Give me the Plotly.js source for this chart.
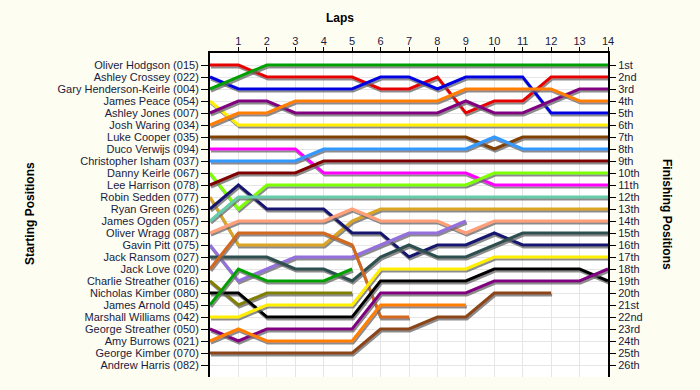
<!DOCTYPE html>
<html>
<head>
<meta charset="utf-8">
<script src="https://cdn.plot.ly/plotly-3.0.1.min.js"></script>
<style>
html,body{margin:0;padding:0;background:#fdfdf1;}
#chart{width:700px;height:390px;}
</style>
</head>
<body>
<div id="chart"></div>
<script>
// Lap numbers (x categories)
const laps = [0,1,2,3,4,5,6,7,8,9,10,11,12,13,14];

// Drivers in starting order
const drivers = [
  "Oliver Hodgson (015)", "Ashley Crossey (022)", "Gary Henderson-Keirle (004)",
  "James Peace (054)", "Ashley Jones (007)", "Josh Waring (034)", "Luke Cooper (035)",
  "Duco Verwijs (094)", "Christopher Isham (037)", "Danny Keirle (067)",
  "Lee Harrison (078)", "Robin Sedden (077)", "Ryan Green (026)", "James Ogden (057)",
  "Oliver Wragg (087)", "Gavin Pitt (075)", "Jack Ransom (027)", "Jack Love (020)",
  "Charlie Streather (016)", "Nicholas Kimber (080)", "James Arnold (045)",
  "Marshall Williams (042)", "George Streather (050)", "Amy Burrows (021)",
  "George Kimber (070)", "Andrew Harris (082)"
];

// Finishing position tick labels
const finishLabels = ["1st","2nd","3rd","4th","5th","6th","7th","8th","9th","10th",
  "11th","12th","13th","14th","15th","16th","17th","18th","19th","20th",
  "21st","22nd","23rd","24th","25th","26th"];

// Position of each driver at lap 0..n
const p015 = [1,1,2,2,2,2,3,3,2,5,4,4,2,2,2];
const p022 = [2,3,3,3,3,3,2,2,3,2,2,2,5,5,5];
const p004 = [3,2,1,1,1,1,1,1,1,1,1,1,1,1,1];
const p054 = [4,6,6,6,6,6,6,6,6,6,6,6,6,6,6];
const p007 = [5,4,4,5,5,5,5,5,5,4,5,5,4,3,3];
const p034 = [6,5,5,4,4,4,4,4,4,3,3,3,3,4,4];
const p035 = [7,7,7,7,7,7,7,7,7,7,8,7,7,7,7];
const p094 = [8,8,8,8,10,10,10,10,10,10,11,11,11,11,11];
const p037 = [9,9,9,9,8,8,8,8,8,8,7,8,8,8,8];
const p067 = [10,13,11,11,11,11,11,11,11,11,10,10,10,10,10];
const p078 = [11,10,10,10,9,9,9,9,9,9,9,9,9,9,9];
const p077 = [12,16,16,16,16,14,13,13,13,13,13,13,13,13,13];
const p026 = [13,11,13,13,13,15,15,17,16,16,15,16,16,16,16];
const p057 = [14,12,12,12,12,12,12,12,12,12,12,12,12,12,12];
const p087 = [15,14,14,14,14,13,14,14,14,15,14,14,14,14,14];
const p075 = [16,19,18,17,17,17,16,15,15,14];
const p027 = [17,17,17,18,18,19,17,16,17,17,16,15,15,15,15];
const p020 = [18,15,15,15,15,16,22,22];
const p016 = [19,21,20,20,20,20];
const p080 = [20,20,22,22,22,22,19,19,19,19,18,18,18,18,19];
const p045 = [21,18,19,19,19,18];
const p042 = [22,22,21,21,21,21,18,18,18,18,17,17,17,17,17];
const p050 = [23,24,23,23,23,23,20,20,20,20,19,19,19,19,18];
const p021 = [24,23,24,24,24,24,21,21,21,21];
const p070 = [25,25,25,25,25,25,23,23,22,22,20,20,20];
const p082 = [];

const positions = [p015,p022,p004,p054,p007,p034,p035,p094,p037,p067,p078,p077,p026,
  p057,p087,p075,p027,p020,p016,p080,p045,p042,p050,p021,p070,p082];

const colors = ["#e60000","#0000e0","#00a000","#ffee00","#800080","#ff8000","#804000",
  "#ff00ff","#3399ff","#80ff00","#800000","#daa520","#191970","#66cdaa","#ffa07a",
  "#9370db","#2f4f4f","#d2691e","#808000","#000000","#00a000","#ffee00","#800080",
  "#ff8000","#8b4513","#ffffff"];

const rankTicks = drivers.map((d,i)=>i+1);

const traces = drivers.map((name,i)=>({
  type:'scatter', mode:'lines', name:name,
  x: laps.slice(0, positions[i].length),
  y: positions[i],
  line:{color:colors[i], width:3},
  hoverinfo:'skip', showlegend:false,
  yaxis: i===drivers.length-2 ? 'y2' : 'y'
}));

const font = {family:'"Liberation Sans", Arial, sans-serif', size:11, color:'#1a1a40'};
const titleFont = {family:'"Liberation Sans", Arial, sans-serif', size:12, color:'#000', weight:'bold'};

const layout = {
  width:700, height:390,
  margin:{l:210, r:92, t:53, b:13, pad:0},
  paper_bgcolor:'#fdfdf1', plot_bgcolor:'#ffffff',
  font:font,
  xaxis:{
    side:'top', range:[0,14], tickvals:laps.slice(1), ticktext:laps.slice(1).map(String),
    showgrid:true, gridcolor:'#e6e6e6', gridwidth:1, zeroline:false,
    showline:true, linecolor:'#000', linewidth:2, ticks:'outside', ticklen:4, tickcolor:'#000',
    ticklabelstandoff:-2,
    tickfont:font, fixedrange:true
  },
  yaxis:{
    range:[27,0], tickvals:rankTicks, ticktext:drivers,
    showgrid:true, gridcolor:'#e6e6e6', gridwidth:1, zeroline:false,
    showline:true, linecolor:'#000', linewidth:2, ticks:'outside', ticklen:7, tickcolor:'#000',
    tickfont:font, fixedrange:true
  },
  yaxis2:{
    overlaying:'y', side:'right', range:[27,0], tickvals:rankTicks, ticktext:finishLabels,
    showgrid:false, zeroline:false,
    showline:true, linecolor:'#000', linewidth:2, ticks:'outside', ticklen:6, tickcolor:'#000',
    tickfont:font, fixedrange:true
  },
  annotations:[
    {text:'Laps', xref:'paper', yref:'paper', x:(340-210)/398, y:(377-18)/324,
     showarrow:false, font:titleFont, xanchor:'center', yanchor:'middle'},
    {text:'Starting Positions', xref:'paper', yref:'paper', x:(30-210)/398, y:(377-214)/324,
     showarrow:false, font:titleFont, textangle:-90, xanchor:'center', yanchor:'middle'},
    {text:'Finishing Positions', xref:'paper', yref:'paper', x:(667-210)/398, y:(377-214)/324,
     showarrow:false, font:titleFont, textangle:90, xanchor:'center', yanchor:'middle'}
  ]
};

Plotly.newPlot('chart', traces, layout, {staticPlot:true, displayModeBar:false}).then(gd=>{
  const svg = gd.querySelector('svg.main-svg');
  const NS = 'http://www.w3.org/2000/svg';
  let defs = svg.querySelector('defs');
  if(!defs){ defs = document.createElementNS(NS,'defs'); svg.insertBefore(defs, svg.firstChild); }
  const f = document.createElementNS(NS,'filter');
  f.setAttribute('id','lineShadow');
  f.setAttribute('filterUnits','userSpaceOnUse');
  f.setAttribute('x','-100'); f.setAttribute('y','-100');
  f.setAttribute('width','2000'); f.setAttribute('height','2000');
  const ds = document.createElementNS(NS,'feDropShadow');
  ds.setAttribute('dx','1'); ds.setAttribute('dy','2'); ds.setAttribute('stdDeviation','0.4');
  ds.setAttribute('flood-color','#666'); ds.setAttribute('flood-opacity','0.75');
  f.appendChild(ds); defs.appendChild(f);
  gd.querySelectorAll('.scatterlayer .trace').forEach(t=>t.setAttribute('filter','url(#lineShadow)'));
});
</script>
</body>
</html>
